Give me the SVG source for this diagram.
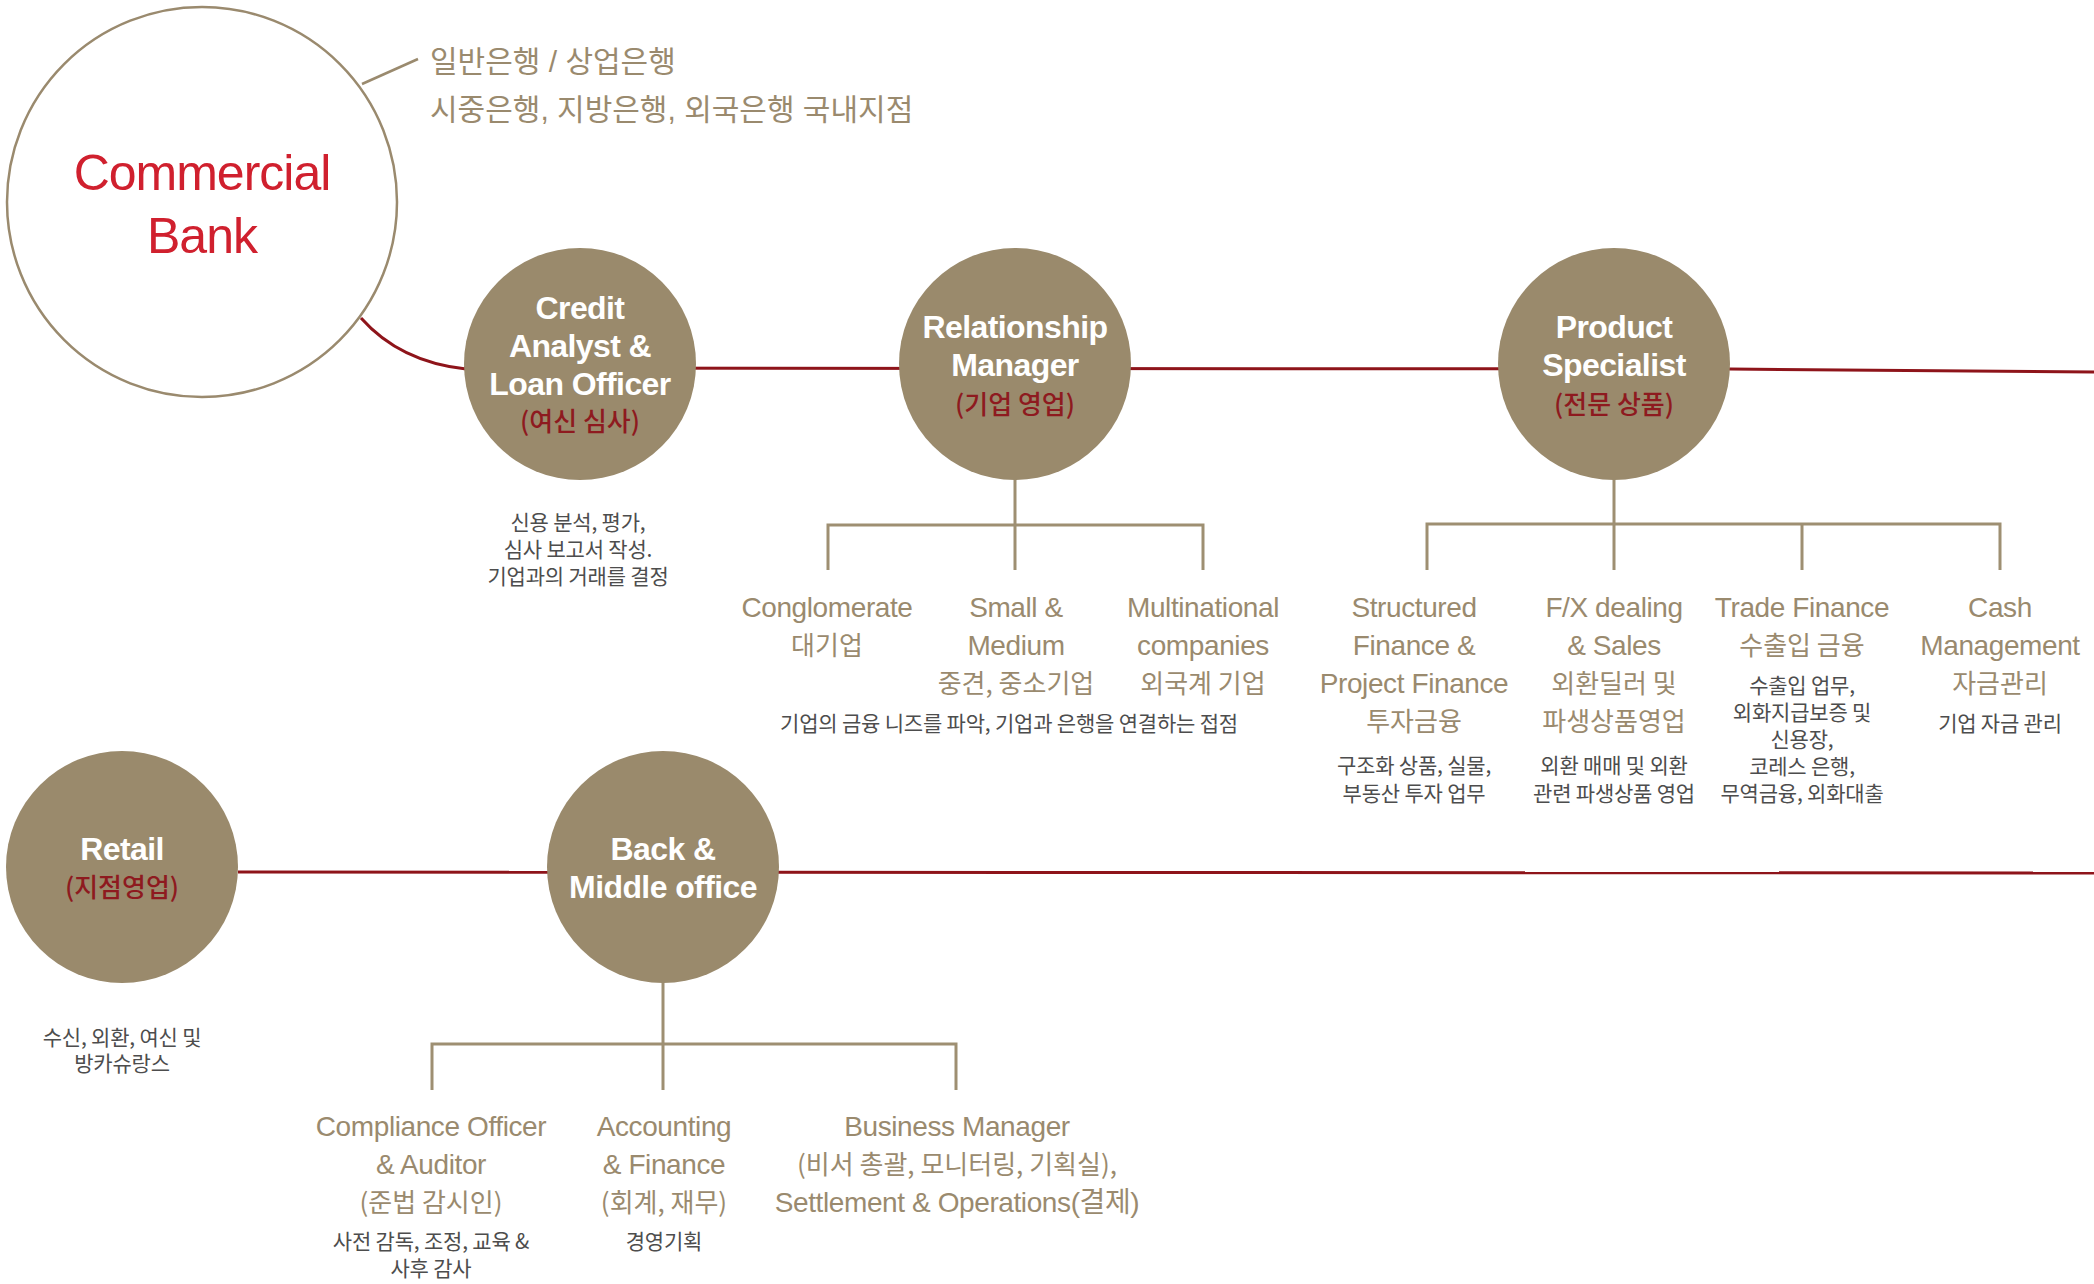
<svg xmlns="http://www.w3.org/2000/svg" width="2094" height="1284" viewBox="0 0 2094 1284">
<style>
text{font-family:"Liberation Sans","Noto Sans CJK KR",sans-serif;text-anchor:middle}
.bub{fill:#9a8a6c}
.nt{fill:#fff;font-size:32px;font-weight:bold;letter-spacing:-0.6px}
.nk{fill:#8e1a1f;font-size:26px;font-weight:500;font-family:"Noto Sans CJK KR",sans-serif}
.ct{fill:#9a8a6e;font-size:28px;letter-spacing:-0.4px}
.ck{fill:#9a8a6e;font-size:26px;font-family:"Noto Sans CJK KR",sans-serif}
.sub{fill:#4d4d4d;font-size:21px;font-family:"Noto Sans CJK KR",sans-serif;letter-spacing:-0.2px}
.red{fill:none;stroke:#8e141a;stroke-width:3}
.tree{fill:none;stroke:#9e8f72;stroke-width:3}
.top{fill:#9a8a6e;font-size:30px;text-anchor:start}
</style>
<g id="connectors">
<path class="red" d="M361,318 Q400,362 466,369"/>
<path class="red" d="M464,368 L1730,369 L2094,372"/>
<path class="red" d="M238,872 L2094,873"/>
<path class="tree" d="M1015,478 V570 M828,570 V525 H1203 V570"/>
<path class="tree" d="M1614,478 V570 M1427,570 V524 H2000 V570 M1802,524 V570"/>
<path class="tree" d="M663,981 V1090 M432,1090 V1044 H956 V1090"/>
<path d="M362,84 L418,59" fill="none" stroke="#9a8a6e" stroke-width="2.5"/>
</g>
<g id="commercial-bank">
<circle cx="202" cy="202" r="195" fill="#fff" stroke="#9a8a6e" stroke-width="2.5"/>
<text x="202" y="190" fill="#d0202e" font-size="50" letter-spacing="-1">Commercial</text>
<text x="202" y="253" fill="#d0202e" font-size="50" letter-spacing="-1">Bank</text>
<text class="top" x="430" y="72">일반은행 / 상업은행</text>
<text class="top" x="430" y="120">시중은행, 지방은행, 외국은행 국내지점</text>
</g>
<g id="credit">
<circle class="bub" cx="580" cy="364" r="116"/>
<text class="nt" x="580" y="319">Credit</text>
<text class="nt" x="580" y="357">Analyst &amp;</text>
<text class="nt" x="580" y="395">Loan Officer</text>
<text class="nk" x="580" y="431">(여신 심사)</text>
<text class="sub" x="578" y="530">신용 분석, 평가,</text>
<text class="sub" x="578" y="557">심사 보고서 작성.</text>
<text class="sub" x="578" y="584">기업과의 거래를 결정</text>
</g>
<g id="relationship-manager">
<circle class="bub" cx="1015" cy="364" r="116"/>
<text class="nt" x="1015" y="338">Relationship</text>
<text class="nt" x="1015" y="376">Manager</text>
<text class="nk" x="1015" y="414">(기업 영업)</text>
</g>
<g id="product-specialist">
<circle class="bub" cx="1614" cy="364" r="116"/>
<text class="nt" x="1614" y="338">Product</text>
<text class="nt" x="1614" y="376">Specialist</text>
<text class="nk" x="1614" y="414">(전문 상품)</text>
</g>
<g id="conglomerate">
<text class="ct" x="827" y="617">Conglomerate</text>
<text class="ck" x="827" y="655">대기업</text>
</g>
<g id="small-medium">
<text class="ct" x="1016" y="617">Small &amp;</text>
<text class="ct" x="1016" y="655">Medium</text>
<text class="ck" x="1016" y="693">중견, 중소기업</text>
</g>
<g id="multinational">
<text class="ct" x="1203" y="617">Multinational</text>
<text class="ct" x="1203" y="655">companies</text>
<text class="ck" x="1203" y="693">외국계 기업</text>
</g>
<text class="sub" x="1009" y="731">기업의 금융 니즈를 파악, 기업과 은행을 연결하는 접점</text>
<g id="structured-finance">
<text class="ct" x="1414" y="617">Structured</text>
<text class="ct" x="1414" y="655">Finance &amp;</text>
<text class="ct" x="1414" y="693">Project Finance</text>
<text class="ck" x="1414" y="731">투자금융</text>
<text class="sub" x="1414" y="773">구조화 상품, 실물,</text>
<text class="sub" x="1414" y="801">부동산 투자 업무</text>
</g>
<g id="fx-dealing">
<text class="ct" x="1614" y="617">F/X dealing</text>
<text class="ct" x="1614" y="655">&amp; Sales</text>
<text class="ck" x="1614" y="693">외환딜러 및</text>
<text class="ck" x="1614" y="731">파생상품영업</text>
<text class="sub" x="1614" y="773">외환 매매 및 외환</text>
<text class="sub" x="1614" y="801">관련 파생상품 영업</text>
</g>
<g id="trade-finance">
<text class="ct" x="1802" y="617">Trade Finance</text>
<text class="ck" x="1802" y="655">수출입 금융</text>
<text class="sub" x="1802" y="693">수출입 업무,</text>
<text class="sub" x="1802" y="720">외화지급보증 및</text>
<text class="sub" x="1802" y="747">신용장,</text>
<text class="sub" x="1802" y="774">코레스 은행,</text>
<text class="sub" x="1802" y="801">무역금융, 외화대출</text>
</g>
<g id="cash-management">
<text class="ct" x="2000" y="617">Cash</text>
<text class="ct" x="2000" y="655">Management</text>
<text class="ck" x="2000" y="693">자금관리</text>
<text class="sub" x="2000" y="731">기업 자금 관리</text>
</g>
<g id="retail">
<circle class="bub" cx="122" cy="867" r="116"/>
<text class="nt" x="122" y="860">Retail</text>
<text class="nk" x="122" y="897">(지점영업)</text>
<text class="sub" x="122" y="1045">수신, 외환, 여신 및</text>
<text class="sub" x="122" y="1071">방카슈랑스</text>
</g>
<g id="back-middle-office">
<circle class="bub" cx="663" cy="867" r="116"/>
<text class="nt" x="663" y="860">Back &amp;</text>
<text class="nt" x="663" y="898">Middle office</text>
</g>
<g id="compliance">
<text class="ct" x="431" y="1136">Compliance Officer</text>
<text class="ct" x="431" y="1174">&amp; Auditor</text>
<text class="ck" x="431" y="1212">(준법 감시인)</text>
<text class="sub" x="431" y="1249">사전 감독, 조정, 교육 &amp;</text>
<text class="sub" x="431" y="1276">사후 감사</text>
</g>
<g id="accounting">
<text class="ct" x="664" y="1136">Accounting</text>
<text class="ct" x="664" y="1174">&amp; Finance</text>
<text class="ck" x="664" y="1212">(회계, 재무)</text>
<text class="sub" x="664" y="1249">경영기획</text>
</g>
<g id="business-manager">
<text class="ct" x="957" y="1136">Business Manager</text>
<text class="ck" x="957" y="1174">(비서 총괄, 모니터링, 기획실),</text>
<text class="ct" x="957" y="1212">Settlement &amp; Operations(결제)</text>
</g>
</svg>
